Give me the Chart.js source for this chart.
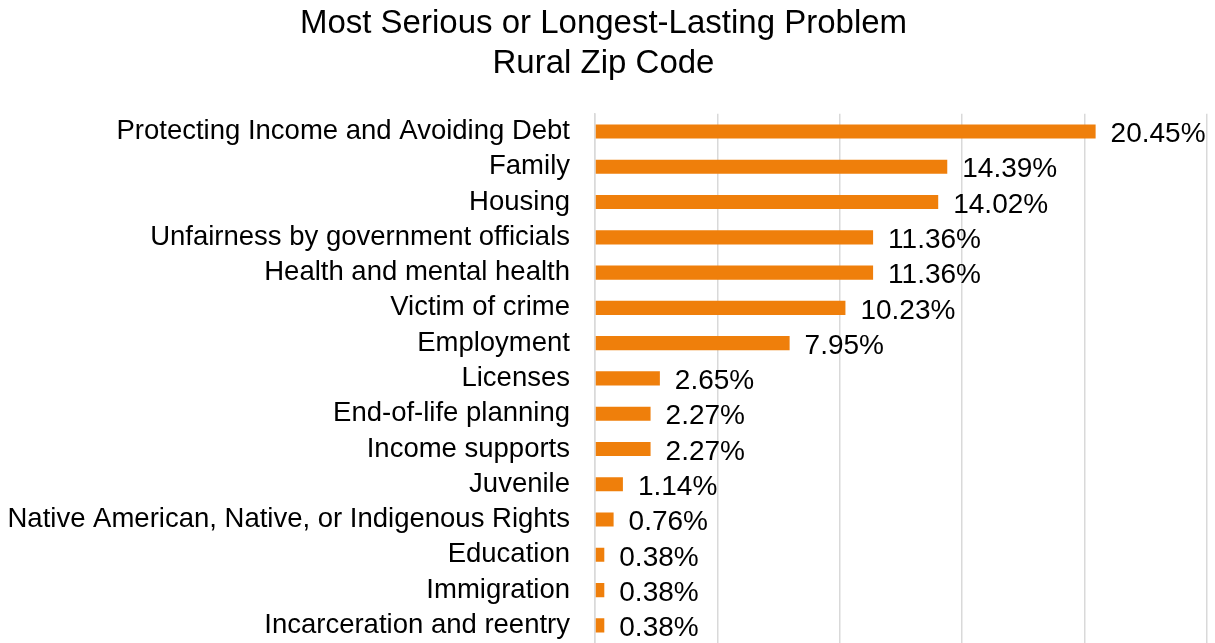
<!DOCTYPE html>
<html>
<head>
<meta charset="utf-8">
<script src="https://cdn.jsdelivr.net/npm/chart.js@4.4.1/dist/chart.umd.min.js"></script>
<style>
  html, body { margin: 0; padding: 0; background: #ffffff; }
  #wrap { width: 1215px; height: 643px; }
</style>
</head>
<body>
<div id="wrap"><canvas id="chart" width="1215" height="643"></canvas></div>
<script>
const titleLines = ['Most Serious or Longest-Lasting Problem', 'Rural Zip Code'];

const categories = [
  'Protecting Income and Avoiding Debt',
  'Family',
  'Housing',
  'Unfairness by government officials',
  'Health and mental health',
  'Victim of crime',
  'Employment',
  'Licenses',
  'End-of-life planning',
  'Income supports',
  'Juvenile',
  'Native American, Native, or Indigenous Rights',
  'Education',
  'Immigration',
  'Incarceration and reentry'
];

const shares = [20.45, 14.39, 14.02, 11.36, 11.36, 10.23, 7.95, 2.65, 2.27, 2.27, 1.14, 0.76, 0.38, 0.38, 0.38];

const axisMax = 25;
const gridStep = 5;

const FONT = '"Liberation Sans", Arial, sans-serif';

// Writes each bar's percentage just past the end of the bar.
const valueLabels = {
  id: 'valueLabels',
  afterDatasetsDraw(chart) {
    const { ctx } = chart;
    const meta = chart.getDatasetMeta(0);
    ctx.save();
    ctx.font = '28px ' + FONT;
    ctx.fillStyle = '#000000';
    ctx.textAlign = 'left';
    ctx.textBaseline = 'middle';
    meta.data.forEach((bar, i) => {
      ctx.fillText(shares[i].toFixed(2) + '%', bar.x + 15, bar.y + 3);
    });
    ctx.restore();
  }
};

new Chart(document.getElementById('chart'), {
  type: 'bar',
  data: {
    labels: categories,
    datasets: [{
      data: shares,
      backgroundColor: '#EF7F0B',
      borderWidth: 0,
      categoryPercentage: 1,
      barPercentage: 0.4
    }]
  },
  options: {
    indexAxis: 'y',
    responsive: false,
    animation: false,
    layout: { padding: { left: 0, right: 8, top: 0, bottom: 0 } },
    plugins: {
      legend: { display: false },
      tooltip: { enabled: false },
      title: {
        display: true,
        text: titleLines,
        color: '#000000',
        font: { family: FONT, size: 33, weight: 'normal', lineHeight: 1.21 },
        padding: { top: 4, bottom: 30 }
      }
    },
    scales: {
      x: {
        min: 0,
        max: axisMax,
        ticks: { display: false, stepSize: gridStep },
        grid: { color: '#d9d9d9', lineWidth: 1.5, drawTicks: false },
        border: { display: false },
        afterFit(scale) { scale.height = 0; }
      },
      y: {
        ticks: {
          color: '#000000',
          font: { family: FONT, size: 27.5 },
          padding: 2,
          autoSkip: false
        },
        grid: { display: false, drawTicks: true, tickLength: 23 },
        border: { display: true, color: '#d9d9d9', width: 1.5 },
        afterFit(scale) {
          scale.width = 595;
          // let the plot run to the bottom edge; the bands already hold the labels
          scale.paddingTop = 0;
          scale.paddingBottom = 0;
        }
      }
    }
  },
  plugins: [valueLabels]
});
</script>
</body>
</html>
